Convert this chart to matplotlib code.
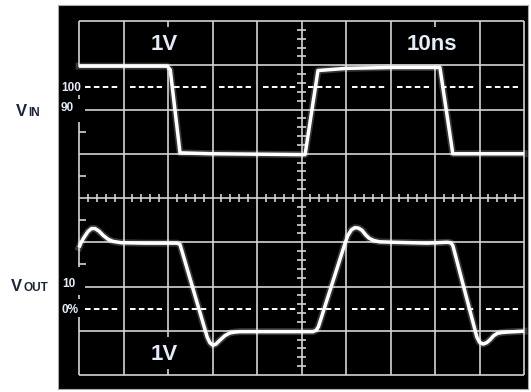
import matplotlib
matplotlib.use('Agg')
import matplotlib.pyplot as plt
import numpy as np

plt.rcParams['lines.scale_dashes'] = False
plt.rcParams['font.family'] = ['Liberation Sans', 'DejaVu Sans']

# ---- data (time in divisions, level in divisions) ----
vin_t = [0.0, 1.98, 2.05, 2.27, 3.0, 5.08, 5.37, 6.0, 7.0, 8.11, 8.40, 9.0, 10.0]
vin_v = [6.98, 6.98, 6.90, 5.02, 5.00, 4.98, 6.88, 6.93, 6.95, 6.95, 5.00, 5.00, 5.00]

vout_t = [0.0, 0.05, 0.12, 0.20, 0.28, 0.36, 0.45, 0.55, 0.65, 0.76, 0.95, 1.5, 2.2, 2.27,
          2.88, 2.94, 3.01, 3.08, 3.17, 3.28, 3.39, 3.50, 3.62, 4.5, 5.26, 5.33, 5.38,
          5.98, 6.04, 6.12, 6.20, 6.28, 6.36, 6.44, 6.52, 6.62, 6.75, 7.06, 7.82,
          8.27, 8.35, 8.40, 8.94, 9.00, 9.08, 9.16, 9.24, 9.32, 9.40, 9.50, 9.62, 10.0]
vout_v = [2.88, 3.00, 3.12, 3.24, 3.31, 3.31, 3.25, 3.15, 3.07, 3.02, 2.99, 2.98, 2.98, 2.95,
          0.86, 0.73, 0.67, 0.70, 0.79, 0.89, 0.95, 0.97, 0.98, 0.98, 0.98, 1.01, 1.09,
          2.98, 3.15, 3.28, 3.33, 3.32, 3.27, 3.17, 3.09, 3.04, 3.01, 3.00, 2.98,
          3.00, 2.99, 2.93, 0.86, 0.74, 0.70, 0.73, 0.80, 0.89, 0.94, 0.96, 0.97, 0.99]

top_labels = ["1V", "10ns"]
bottom_label = "1V"
vin_marks = ["100", "90"]
vout_marks = ["10", "0%"]

W, H = 531, 392
fig = plt.figure(figsize=(W / 100, H / 100), dpi=100)
fig.patch.set_facecolor('white')

def fx(px):
    return px / W

def fy(py):
    return 1 - py / H

# black bezel
bg = fig.add_axes([fx(58), fy(389), 470 / W, 384 / H])
bg.set_facecolor('black')
bg.set_xticks([]); bg.set_yticks([])
for s in bg.spines.values():
    s.set_color('#aaaaaa'); s.set_linewidth(0.8)

ax = fig.add_axes([fx(79), fy(375), 445 / W, 354 / H])
ax.set_xlim(0, 10); ax.set_ylim(0, 8)
ax.axis('off')

gc = '#d4d4d4'
glw = 1.2

def seg(x0, x1, y0, y1, **kw):
    ax.plot([x0, x1], [y0, y1], color=kw.pop('color', gc), lw=kw.pop('lw', glw),
            clip_on=False, solid_capstyle='butt', zorder=kw.pop('zorder', 1), **kw)

# vertical grid lines
for x in [1, 3, 4, 5, 6, 7, 9, 10]:
    seg(x, x, 0, 8)
for a, b in [(0, 0.14), (0.86, 7.0), (7.86, 8)]:
    seg(2, 2, a, b)
for a, b in [(0, 7.0), (7.86, 8)]:
    seg(8, 8, a, b)
for a, b in [(0, 1.31), (2.44, 5.72), (6.96, 8)]:
    seg(0, 0, a, b)
# small dots on left border
for y in [6.28, 1.76]:
    seg(0, 0, y - 0.05, y + 0.05)

# horizontal grid lines
for y in [0, 1, 3, 4, 5, 7, 8]:
    seg(0, 10, y, y)
for y in [2, 6]:
    seg(0.14, 10, y, y)

# left border ticks
for y in [2.5, 3.5, 4.5, 5.5]:
    seg(0, 0.16, y, y)

# centre-line minor ticks
for k in range(1, 50):
    t = k * 0.2
    if k % 5:
        seg(t, t, 3.9, 4.1)
for k in range(1, 40):
    t = k * 0.2
    if k % 5:
        seg(4.91, 5.09, t, t)

# dashed reference lines
for y in [6.5, 1.5]:
    for i in range(10):
        ax.plot([i + 0.14, i + 0.87], [y, y], color='white', lw=1.4,
                linestyle=(0, (4.0, 2.4)), clip_on=False, zorder=2,
                dash_capstyle='butt')

# traces
for t, v in [(vin_t, vin_v), (vout_t, vout_v)]:
    ax.plot(t, v, color='white', lw=5, alpha=0.22, clip_on=False, zorder=3,
            solid_joinstyle='round')
    ax.plot(t, v, color='white', lw=2.5, clip_on=False, zorder=4,
            solid_joinstyle='round', solid_capstyle='butt')

# scale labels
tc = '#e4ecf8'
fig.text(fx(164), fy(44), top_labels[0], fontsize=16, fontweight='bold', color=tc,
         ha='center', va='center')
fig.text(fx(432), fy(45), top_labels[1], fontsize=16, fontweight='bold', color=tc,
         ha='center', va='center')
fig.text(fx(164), fy(354), bottom_label, fontsize=16, fontweight='bold', color=tc,
         ha='center', va='center')

# percentage marks
for lab, y in zip(vin_marks, [88, 108]):
    fig.text(fx(61), fy(y), lab, fontsize=8.5, fontweight='bold', color=tc,
             ha='left', va='center')
for lab, y in zip(vout_marks, [284, 310]):
    fig.text(fx(62), fy(y), lab, fontsize=8.5, fontweight='bold', color=tc,
             ha='left', va='center')

# channel labels
lc = '#1c2438'
fig.text(fx(16), fy(116), 'V', fontsize=12, fontweight='bold', color=lc, ha='left', va='baseline')
fig.text(fx(28), fy(116), 'IN', fontsize=8.5, fontweight='bold', color=lc, ha='left', va='baseline')
fig.text(fx(11), fy(291), 'V', fontsize=12, fontweight='bold', color=lc, ha='left', va='baseline')
fig.text(fx(23), fy(291), 'OUT', fontsize=8.5, fontweight='bold', color=lc, ha='left', va='baseline')

fig.savefig('out.png', dpi=100, facecolor='white')
